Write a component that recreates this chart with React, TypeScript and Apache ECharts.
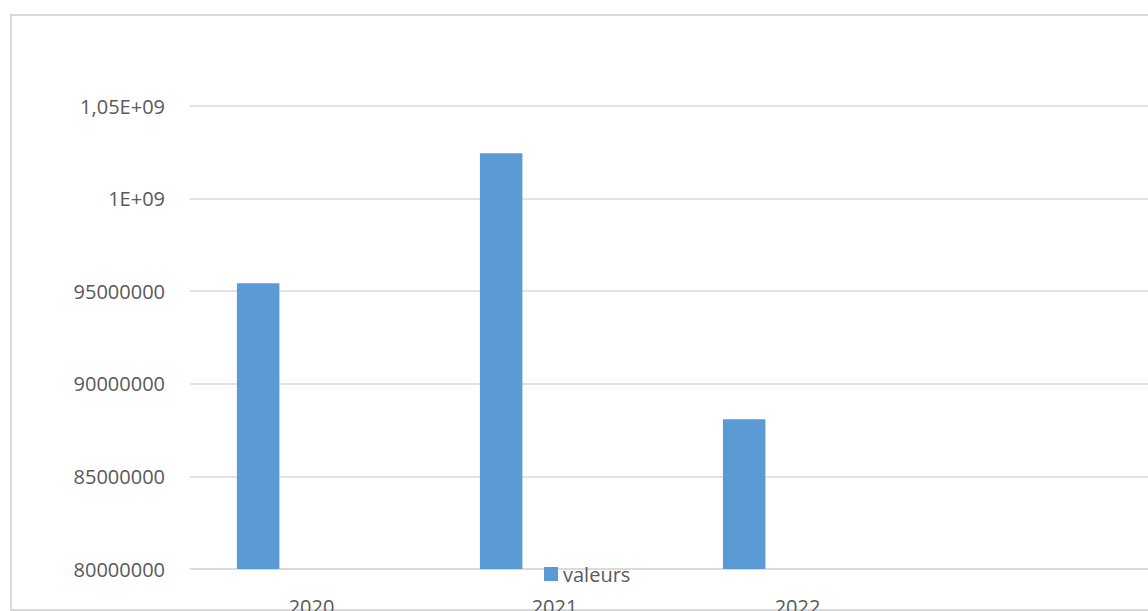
import React, { useEffect, useRef } from "react";
import * as echarts from "echarts";

// Years on the category axis (the fourth slot is an empty category)
const categories = ["2020", "2021", "2022", ""];
// Values of the "valeurs" series
const valeurs = [95430000, 102450000, 88080000, null];
// Empty companion series, keeps the cluster layout of the bars
const emptySeries = [null, null, null, null];
// Y tick labels as displayed, from 80 000 000 upward in steps of 5 000 000
const yTickLabels = ["80000000", "85000000", "90000000", "95000000", "1E+09", "1,05E+09"];
const yMin = 80000000;
const yStep = 5000000;
const yMax = 105000000;

const FONT = "'Open Sans', sans-serif";
const TEXT = "#595959";
const GRID = "#d9d9d9";
const BAR = "#5b9bd5";

export default function App() {
  const ref = useRef<HTMLDivElement>(null);

  useEffect(() => {
    if (!ref.current) return;
    const chart = echarts.init(ref.current, undefined, { renderer: "svg" });
    chart.setOption({
      animation: false,
      backgroundColor: "#ffffff",
      textStyle: { fontFamily: FONT },
      graphic: [
        {
          type: "rect",
          silent: true,
          shape: { x: 11, y: 15, width: 1200, height: 595 },
          style: { fill: "none", stroke: GRID, lineWidth: 2 },
          z: -1,
        },
      ],
      grid: {
        left: 190,
        top: 106,
        right: 18,
        height: 463,
        containLabel: false,
        outerBoundsMode: "none",
      },
      legend: {
        data: ["valeurs"],
        left: 544,
        top: 564,
        padding: 0,
        itemWidth: 14,
        itemHeight: 14,
        itemGap: 10,
        icon: "rect",
        textStyle: { color: TEXT, fontSize: 20, fontFamily: FONT, padding: [0, 0, 0, 0] },
      },
      xAxis: {
        type: "category",
        data: categories,
        axisLine: { show: true, lineStyle: { color: GRID, width: 1.5 } },
        axisTick: { show: false },
        axisLabel: { color: TEXT, fontSize: 20, fontFamily: FONT, margin: 27 },
        splitLine: { show: false },
      },
      yAxis: {
        type: "value",
        min: yMin,
        max: yMax,
        interval: yStep,
        axisLine: { show: false },
        axisTick: { show: false },
        axisLabel: {
          color: TEXT,
          fontSize: 20,
          fontFamily: FONT,
          margin: 25,
          formatter: (v: number) => yTickLabels[Math.round((v - yMin) / yStep)] ?? "",
        },
        splitLine: { lineStyle: { color: GRID, width: 1.5 } },
      },
      series: [
        {
          name: "valeurs",
          type: "bar",
          data: valeurs,
          barWidth: 42.5,
          barGap: "151%",
          itemStyle: { color: BAR },
        },
        {
          name: "autre",
          type: "bar",
          data: emptySeries,
          barWidth: 42.5,
          itemStyle: { color: "#ed7d31" },
        },
      ],
    });
    return () => chart.dispose();
  }, []);

  return (
    <div
      ref={ref}
      style={{ position: "fixed", left: 0, top: 0, width: 1180, height: 611, overflow: "hidden" }}
    />
  );
}
